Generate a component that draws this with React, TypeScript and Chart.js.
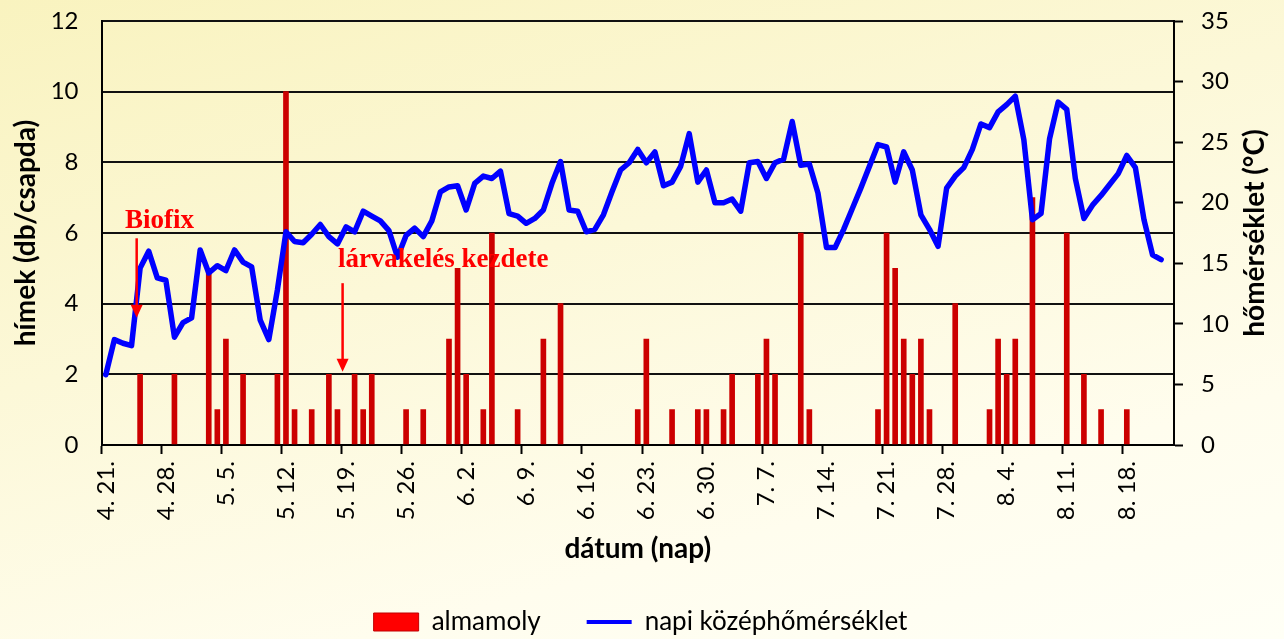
import React, { useEffect, useRef } from 'react';
import { Chart, registerables } from 'chart.js';

Chart.register(...registerables);

// ---- categories (daily dates, 4.21 – 8.23) ----
const monthSpans: [number, number, number][] = [
  [4, 21, 30],
  [5, 1, 31],
  [6, 1, 30],
  [7, 1, 31],
  [8, 1, 23],
];
const dayLabels: string[] = [];
monthSpans.forEach(([m, a, b]) => {
  for (let d = a; d <= b; d++) dayLabels.push(`${m}. ${d}.`);
});

const tickLabels = [
  '4. 21.', '4. 28.', '5. 5.', '5. 12.', '5. 19.', '5. 26.', '6. 2.', '6. 9.', '6. 16.',
  '6. 23.', '6. 30.', '7. 7.', '7. 14.', '7. 21.', '7. 28.', '8. 4.', '8. 11.', '8. 18.',
];

// ---- almamoly catches (males / trap) ----
const mothDates = [
  '4. 25.', '4. 29.', '5. 3.', '5. 4.', '5. 5.', '5. 7.', '5. 11.', '5. 12.', '5. 13.', '5. 15.',
  '5. 17.', '5. 18.', '5. 20.', '5. 21.', '5. 22.', '5. 26.', '5. 28.', '5. 31.', '6. 1.', '6. 2.',
  '6. 4.', '6. 5.', '6. 8.', '6. 11.', '6. 13.', '6. 22.', '6. 23.', '6. 26.', '6. 29.', '6. 30.',
  '7. 2.', '7. 3.', '7. 6.', '7. 7.', '7. 8.', '7. 11.', '7. 12.', '7. 20.', '7. 21.', '7. 22.',
  '7. 23.', '7. 24.', '7. 25.', '7. 26.', '7. 29.', '8. 2.', '8. 3.', '8. 4.', '8. 5.', '8. 7.',
  '8. 11.', '8. 13.', '8. 15.', '8. 18.',
];
const mothCounts = [
  2, 2, 5, 1, 3, 2, 2, 10, 1, 1,
  2, 1, 2, 1, 2, 1, 1, 3, 5, 2,
  1, 6, 1, 3, 4, 1, 3, 1, 1, 1,
  1, 2, 2, 3, 2, 6, 1, 1, 6, 5,
  3, 2, 3, 1, 4, 1, 3, 2, 3, 7,
  6, 2, 1, 1,
];

// ---- daily mean temperature (°C), from 4.21 ----
const dailyMeanTemp = [
  5.8, 8.7, 8.4, 8.2, 14.6, 16.0, 13.8, 13.6, 8.9, 10.1,
  10.5, 16.1, 14.2, 14.8, 14.4, 16.1, 15.1, 14.7, 10.3, 8.7,
  12.8, 17.6, 16.8, 16.7, 17.4, 18.2, 17.2, 16.6, 18.0, 17.6,
  19.3, 18.9, 18.5, 17.7, 15.5, 17.3, 17.9, 17.2, 18.5, 20.9,
  21.3, 21.4, 19.4, 21.6, 22.2, 22.0, 22.6, 19.1, 18.9, 18.3,
  18.7, 19.4, 21.6, 23.4, 19.4, 19.3, 17.6, 17.8, 19.0, 20.9,
  22.7, 23.3, 24.4, 23.3, 24.2, 21.4, 21.7, 23.0, 25.7, 21.7,
  22.7, 20.0, 20.0, 20.3, 19.3, 23.3, 23.4, 22.0, 23.3, 23.6,
  26.7, 23.1, 23.2, 20.8, 16.3, 16.3, 17.8, 19.5, 21.2, 23.0,
  24.8, 24.6, 21.7, 24.2, 22.7, 19.0, 17.8, 16.4, 21.2, 22.2,
  22.9, 24.4, 26.5, 26.2, 27.5, 28.1, 28.8, 25.2, 18.6, 19.1,
  25.3, 28.3, 27.7, 22.0, 18.7, 19.8, 20.6, 21.5, 22.4, 23.9,
  22.9, 18.6, 15.7, 15.3,
];

const leftTitle = 'hímek (db/csapda)';
const rightTitle = 'hőmérséklet (°C)';
const xTitle = 'dátum (nap)';
const barLabel = 'almamoly';
const lineLabel = 'napi középhőmérséklet';

// annotations (text, arrow) in category / left-axis units
const noteTexts = ['Biofix', 'lárvakelés kezdete'];
const noteTextX = [2.25, 27.05];
const noteTextY = [6.13, 5.05];
const noteArrowX = [3.6, 27.6];
const noteArrowFrom = [5.85, 4.58];
const noteArrowTo = [3.6, 2.07];

const FONT = 'Lato';
const TITLE_SIZE = 28;

const overlayPlugin = {
  id: 'overlay',
  afterDraw(chart: any) {
    const { ctx, scales } = chart;
    const x = scales.x;
    const y = scales.y;
    const y1 = scales.y1;
    // right axis title (reads bottom-to-top)
    ctx.save();
    ctx.font = `bold ${TITLE_SIZE}px ${FONT}`;
    ctx.fillStyle = '#000';
    ctx.textAlign = 'center';
    ctx.textBaseline = 'middle';
    ctx.translate(y1.right - 4 - (TITLE_SIZE * 1.2) / 2, (y1.top + y1.bottom) / 2);
    ctx.rotate(-Math.PI / 2);
    ctx.fillText(rightTitle, 0, 0);
    ctx.restore();

    // annotations
    ctx.save();
    ctx.fillStyle = '#ff0000';
    ctx.strokeStyle = '#ff0000';
    ctx.font = `bold 27px "Liberation Serif", "Times New Roman", serif`;
    ctx.textAlign = 'left';
    ctx.textBaseline = 'alphabetic';
    noteTexts.forEach((t, i) => {
      ctx.fillText(t, x.getPixelForValue(noteTextX[i]), y.getPixelForValue(noteTextY[i]));
      const ax = x.getPixelForValue(noteArrowX[i]);
      const ay0 = y.getPixelForValue(noteArrowFrom[i]);
      const ay1 = y.getPixelForValue(noteArrowTo[i]);
      ctx.lineWidth = 2.5;
      ctx.beginPath();
      ctx.moveTo(ax, ay0);
      ctx.lineTo(ax, ay1 - 10);
      ctx.stroke();
      ctx.beginPath();
      ctx.moveTo(ax - 6, ay1 - 13);
      ctx.lineTo(ax + 6, ay1 - 13);
      ctx.lineTo(ax, ay1);
      ctx.closePath();
      ctx.fill();
    });
    ctx.restore();
  },
};

export default function App() {
  const canvasRef = useRef<HTMLCanvasElement | null>(null);

  useEffect(() => {
    const canvas = canvasRef.current;
    if (!canvas) return;
    const barData = dayLabels.map((d) => {
      const k = mothDates.indexOf(d);
      return k >= 0 ? mothCounts[k] : null;
    });
    const isTick = (i: number) => i >= 0 && i < dayLabels.length && tickLabels.includes(dayLabels[i]);

    const chart = new Chart(canvas, {
      type: 'bar',
      data: {
        labels: dayLabels,
        datasets: [
          {
            type: 'line',
            label: lineLabel,
            data: dailyMeanTemp,
            yAxisID: 'y1',
            borderColor: '#0000ff',
            backgroundColor: '#0000ff',
            borderWidth: 5.5,
            pointRadius: 0,
            pointHoverRadius: 0,
            tension: 0,
            borderJoinStyle: 'round',
            borderCapStyle: 'round',
          } as any,
          {
            type: 'bar',
            label: barLabel,
            data: barData,
            yAxisID: 'y',
            backgroundColor: '#cc0000',
            borderWidth: 0,
            barThickness: 5,
          } as any,
        ],
      },
      options: {
        responsive: false,
        animation: false,
        layout: { padding: { left: 5, right: 8, top: 21, bottom: 0 } },
        plugins: {
          tooltip: { enabled: false },
          legend: {
            position: 'bottom',
            labels: {
              usePointStyle: true,
              pointStyleWidth: 45,
              boxHeight: 18,
              padding: 46,
              color: '#000',
              font: { family: FONT, size: 26 },
              generateLabels: (ch: any) => {
                const items = (Chart.defaults.plugins.legend.labels as any).generateLabels(ch);
                items.forEach((it: any) => {
                  if (it.datasetIndex === 1) {
                    it.pointStyle = 'rect';
                    it.fillStyle = '#ff0000';
                    it.strokeStyle = '#c00000';
                    it.lineWidth = 1;
                  } else {
                    it.pointStyle = 'line';
                    it.strokeStyle = '#0000ff';
                    it.fillStyle = '#0000ff';
                    it.lineWidth = 4;
                  }
                });
                return items.reverse();
              },
            },
          },
        },
        scales: {
          x: {
            type: 'category',
            offset: true,
            afterFit: (s: any) => {
              s.height = 118;
              s.paddingLeft = 0;
              s.paddingRight = 0;
            },
            grid: {
              offset: true,
              drawOnChartArea: false,
              drawTicks: true,
              tickLength: 9,
              tickWidth: 2,
              tickColor: (c: any) => (isTick(c.index) ? '#000' : 'rgba(0,0,0,0)'),
            },
            border: { display: true, color: '#000', width: 2 },
            ticks: {
              autoSkip: false,
              minRotation: 90,
              maxRotation: 90,
              padding: 7,
              color: '#000',
              font: { family: FONT, size: 24 },
              callback: (_v: any, i: number) => (isTick(i) ? dayLabels[i] : ''),
            },
            title: {
              display: true,
              text: xTitle,
              color: '#000',
              font: { family: FONT, size: TITLE_SIZE, weight: 'bold', lineHeight: 1.0 },
              padding: { top: 10, bottom: 0 },
            },
          },
          y: {
            position: 'left',
            min: 0,
            max: 12,
            afterFit: (s: any) => {
              s.width = 96.5;
              s.paddingTop = 0;
              s.paddingBottom = 0;
            },
            ticks: {
              stepSize: 2,
              padding: 23,
              color: '#000',
              font: { family: FONT, size: 24 },
            },
            grid: { color: '#111', lineWidth: 2, drawTicks: false },
            border: { display: true, color: '#000', width: 2 },
            title: {
              display: true,
              text: leftTitle,
              color: '#000',
              font: { family: FONT, size: TITLE_SIZE, weight: 'bold' },
              padding: { top: 4, bottom: 8 },
            },
          },
          y1: {
            position: 'right',
            min: 0,
            max: 35,
            afterFit: (s: any) => {
              s.width = 102;
              s.paddingTop = 0;
              s.paddingBottom = 0;
            },
            ticks: {
              stepSize: 5,
              padding: 18,
              color: '#000',
              font: { family: FONT, size: 24 },
            },
            grid: {
              drawOnChartArea: false,
              drawTicks: true,
              tickLength: 9,
              tickWidth: 2,
              tickColor: '#000',
            },
            border: { display: true, color: '#000', width: 2 },
            title: {
              display: true,
              text: rightTitle,
              color: 'rgba(0,0,0,0)',
              font: { family: FONT, size: TITLE_SIZE, weight: 'bold' },
              padding: { top: 4, bottom: 8 },
            },
          },
        },
      } as any,
      plugins: [overlayPlugin],
    });
    return () => chart.destroy();
  }, []);

  return (
    <div
      style={{
        position: 'fixed',
        left: 0,
        top: 0,
        width: 1284,
        height: 639,
        overflow: 'hidden',
        background: 'linear-gradient(165deg, #f9f3bf 0%, #fcf8d8 40%, #fffdee 75%, #fffff6 100%)',
      }}
    >
      <canvas ref={canvasRef} width={1284} height={645} style={{ display: 'block' }} />
    </div>
  );
}
